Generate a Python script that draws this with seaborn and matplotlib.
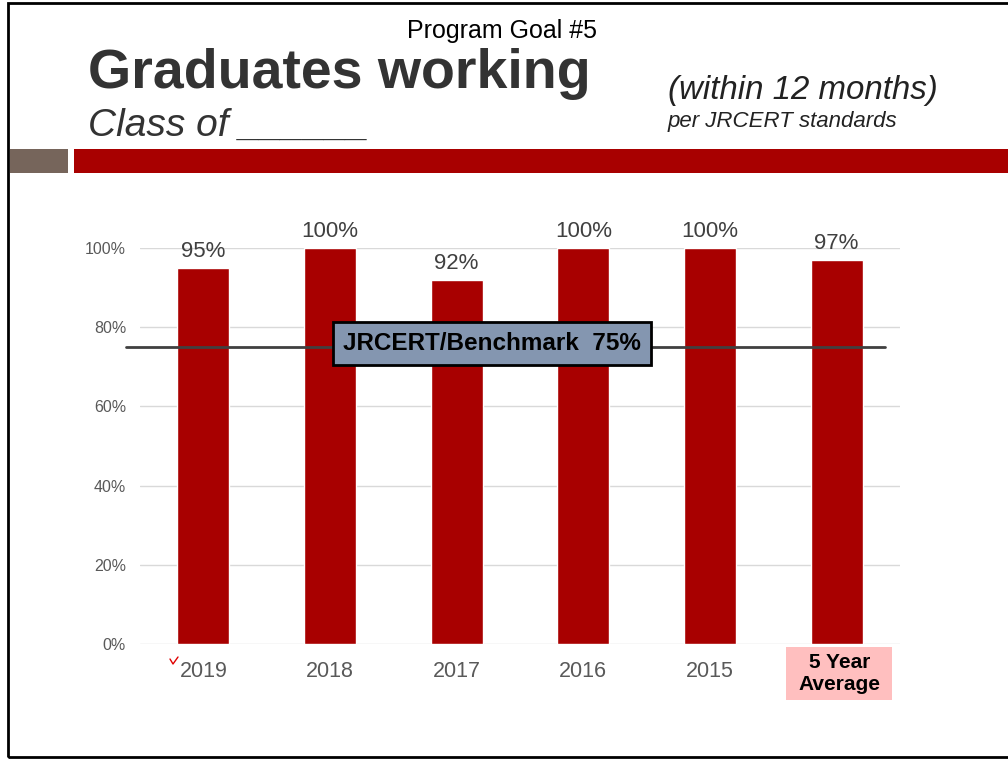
import seaborn as sns
import pandas as pd
import matplotlib.pyplot as plt
from matplotlib.patches import Rectangle
from matplotlib.lines import Line2D

# ---- data ----
classes = ["2019", "2018", "2017", "2016", "2015", "5 Year\nAverage"]
pct_working = [95, 100, 92, 100, 100, 97]
benchmark = 75
y_ticks = [0, 20, 40, 60, 80, 100]

df = pd.DataFrame({"cls": classes, "pct": pct_working})

sns.set_style("white")
plt.rcParams["font.family"] = ["Liberation Sans", "DejaVu Sans"]

fig = plt.figure(figsize=(10.08, 7.6), dpi=100)
W, H = 1008, 760

def fx(px):
    return px / W

def fy(py):
    return 1 - py / H

# slide frame
fig.patches.append(Rectangle((fx(8), fy(757)), 1.2, fy(3) - fy(757), transform=fig.transFigure,
                             fill=False, edgecolor="black", linewidth=2))

# header text
fig.text(fx(502), fy(31), "Program Goal #5", ha="center", va="center", fontsize=18, color="black")
fig.text(fx(88), fy(74), "Graduates working", ha="left", va="center", fontsize=40,
         fontweight="bold", color="#333333")
fig.text(fx(88), fy(126), "Class of ______", ha="left", va="center", fontsize=28,
         style="italic", color="#333333")
fig.text(fx(668), fy(90), "(within 12 months)", ha="left", va="center", fontsize=23.8,
         style="italic", color="#222222")
fig.text(fx(668), fy(122), "per JRCERT standards", ha="left", va="center", fontsize=16,
         style="italic", color="#222222")

# header bands
fig.patches.append(Rectangle((fx(10), fy(173)), fx(58), fy(149) - fy(173), transform=fig.transFigure,
                             color="#76655B", linewidth=0))
fig.patches.append(Rectangle((fx(74), fy(173)), 1.0, fy(149) - fy(173), transform=fig.transFigure,
                             color="#A80000", linewidth=0))

# chart area
ax = fig.add_axes([fx(140), fy(644), fx(900) - fx(140), fy(248) - fy(644)])
sns.barplot(data=df, x="cls", y="pct", color="#A80000", saturation=1, width=0.41, ax=ax)
ax.set_ylim(0, 100)
ax.set_yticks(y_ticks)
ax.set_yticklabels([f"{v}%" for v in y_ticks], fontsize=11.5, color="#595959")
ax.yaxis.grid(True, color="#D9D9D9", linewidth=1)
ax.set_axisbelow(True)
ax.tick_params(axis="y", length=0, pad=10)
ax.tick_params(axis="x", length=0, pad=12, labelsize=15.5, labelcolor="#595959")
ax.set_xticks(range(len(classes)))
ax.set_xticklabels(classes[:-1] + [""])
ax.set_xlabel("")
ax.set_ylabel("")
for s in ax.spines.values():
    s.set_visible(False)

# last category label: bold on a pink box
xt = ax.get_xaxis_transform()
last_i = len(classes) - 1
ax.add_patch(Rectangle((last_i - 0.402, -0.1414), 0.842, 0.1338, transform=xt,
                       facecolor="#FFBFBF", edgecolor="none", clip_on=False))
ax.text(last_i + 0.02, -0.0745, classes[-1], transform=xt, ha="center", va="center",
        fontsize=15, fontweight="bold", color="black", linespacing=1.15)

# value labels
ax.bar_label(ax.containers[0], labels=[f"{v}%" for v in pct_working], padding=4,
             fontsize=16, color="#404040", clip_on=False)

# benchmark line and label
ax.axhline(benchmark, xmin=-0.018, xmax=0.98, color="#404040", linewidth=2, clip_on=False)
ax.text(2.28, benchmark + 0.9, "JRCERT/Benchmark  75%", ha="center", va="center", fontsize=17.5,
        fontweight="bold", color="black",
        bbox=dict(boxstyle="square,pad=0.42", facecolor="#8496B0", edgecolor="black", linewidth=2))

# small red check mark by 2019
fig.lines.append(Line2D([fx(170), fx(173), fx(178)], [fy(659), fy(664), fy(657)],
                        transform=fig.transFigure, color="#E00000", linewidth=1))

plt.savefig("out.png", dpi=100)
